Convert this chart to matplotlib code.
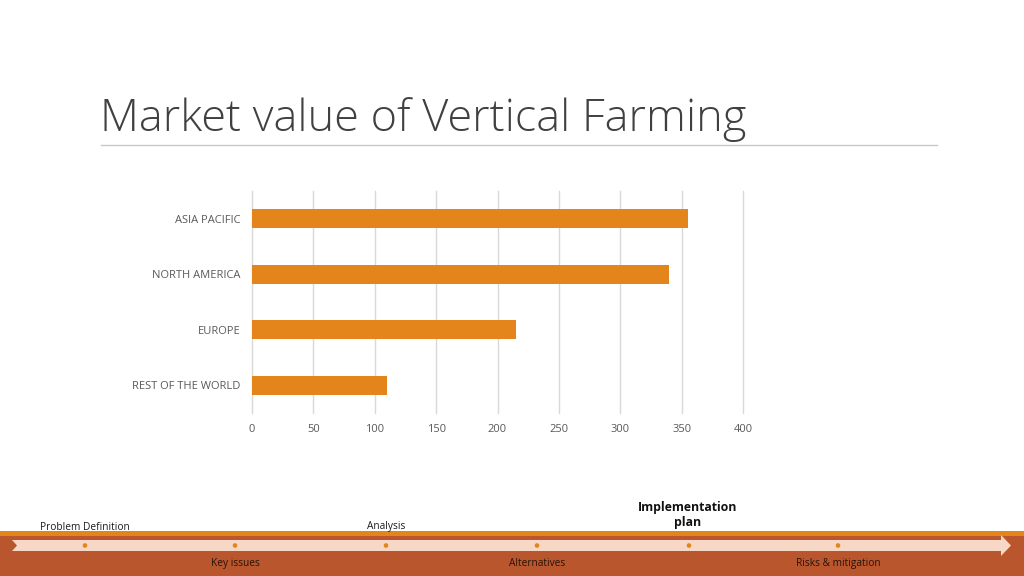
import matplotlib
matplotlib.use("Agg")
import matplotlib.pyplot as plt
from matplotlib.patches import Rectangle, Polygon, Circle

# ---- data ----
regions = ["ASIA PACIFIC", "NORTH AMERICA", "EUROPE", "REST OF THE WORLD"]
values = [355, 340, 215, 110]
x_ticks = [0, 50, 100, 150, 200, 250, 300, 350, 400]
title = "Market value of Vertical Farming"
steps_top = ["Problem Definition", "Analysis", "Implementation\nplan"]
steps_bottom = ["Key issues", "Alternatives", "Risks & mitigation"]

W, H = 1024, 576
fig = plt.figure(figsize=(W / 100, H / 100), dpi=100)
fig.patch.set_facecolor("white")

FONT = ["Open Sans", "DejaVu Sans"]

# ---- overlay axes in pixel coordinates for slide decorations ----
deco = fig.add_axes([0, 0, 1, 1])
deco.set_xlim(0, W)
deco.set_ylim(H, 0)
deco.axis("off")

deco.text(100, 120, title, fontsize=32.5, color="#404040", family=FONT,
          fontweight="light", ha="left", va="center")
deco.plot([101, 937], [145, 145], color="#c8c8c8", lw=1)

# bottom timeline band
deco.add_patch(Rectangle((0, 531), W, 5, color="#E3851A", lw=0))
deco.add_patch(Rectangle((0, 536), W, 40, color="#B9562D", lw=0))
strip = Polygon([(12, 540), (1001, 540), (1001, 535), (1011, 545.5),
                 (1001, 556), (1001, 551), (12, 551), (17, 545.5)],
                closed=True, color="#F7D8C6", lw=0)
deco.add_patch(strip)
dot_x = [85, 235, 386, 537, 689, 838]
for dx in dot_x:
    deco.add_patch(Circle((dx, 545.5), 2.3, color="#E3851A", lw=0))

deco.text(40, 527, steps_top[0], fontsize=7.3, color="#1a1a1a", family=FONT,
          ha="left", va="center")
deco.text(386, 527, steps_top[1], fontsize=7.3, color="#1a1a1a", family=FONT,
          ha="center", va="center")
deco.text(688, 515, steps_top[2], fontsize=8.8, color="#111111", family=FONT,
          fontweight="bold", ha="center", va="center", linespacing=1.2)
for lx, lab in zip([235, 537, 838], steps_bottom):
    deco.text(lx, 563.5, lab, fontsize=7.3, color="#2a1208", family=FONT,
              ha="center", va="center")

# ---- chart axes ----
left, right, top, bottom = 252, 743, 191, 413
ax = fig.add_axes([left / W, 1 - bottom / H, (right - left) / W, (bottom - top) / H])
ax.set_facecolor("none")
ypos = list(range(len(regions)))
ax.barh(ypos, values, height=0.345, color="#E3851A", zorder=3)
ax.set_xlim(0, 400)
ax.set_ylim(len(regions) - 0.5, -0.5)
ax.set_yticks(ypos)
ax.set_yticklabels(regions)
ax.set_xticks(x_ticks)
ax.set_xticklabels([str(t) for t in x_ticks])
ax.grid(axis="x", color="#d9d9d9", lw=1, zorder=0)
for gl in ax.get_xgridlines():
    gl.set_clip_on(False)
for s in ax.spines.values():
    s.set_visible(False)
ax.tick_params(length=0, labelsize=8, colors="#595959")
ax.tick_params(axis="y", pad=8.5)
ax.tick_params(axis="x", pad=8)
for lab in ax.get_xticklabels() + ax.get_yticklabels():
    lab.set_family(FONT)

fig.savefig("out.png", dpi=100, facecolor="white")
